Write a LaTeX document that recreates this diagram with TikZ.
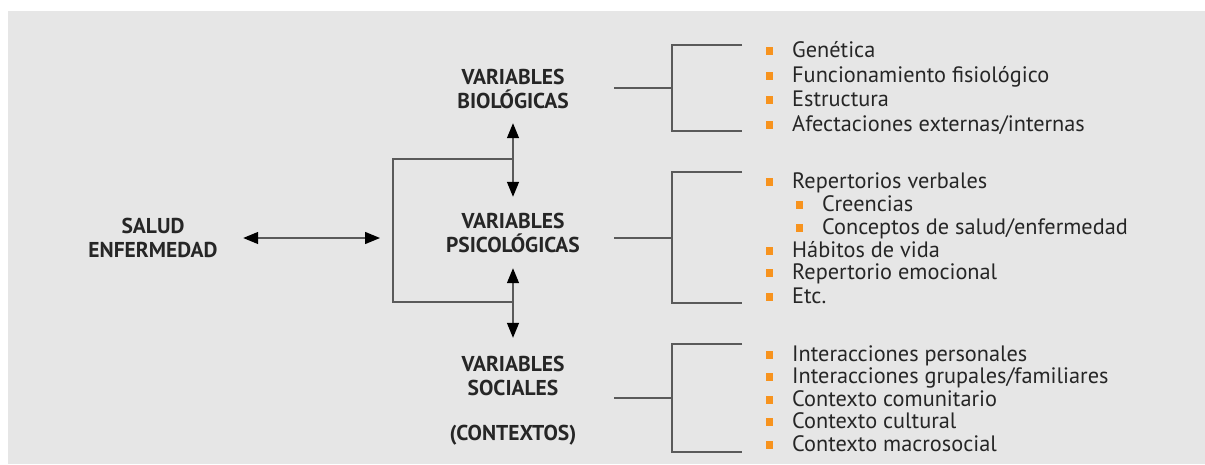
\documentclass[tikz,border=0pt]{standalone}
\usepackage{fontspec}
\setmainfont{PT Sans}
\usetikzlibrary{arrows.meta}
\definecolor{bg}{HTML}{E6E6E6}
\definecolor{txt}{HTML}{262626}
\definecolor{ln}{HTML}{5A5A5A}
\definecolor{orng}{HTML}{F7931E}
\begin{document}
\begin{tikzpicture}[x=1pt,y=-1pt,
  lab/.style={font=\fontsize{21.5}{24}\selectfont\bfseries, text=txt, align=center, inner sep=0pt},
  item/.style={font=\fontsize{22.3}{23}\selectfont, text=txt, anchor=base west, inner sep=0pt},
  bul/.style={fill=orng, minimum width=7pt, minimum height=8pt, inner sep=0pt},
  brk/.style={draw=ln, line width=1.3pt},
  dbl/.style={draw=ln, line width=1.4pt, {Triangle[length=15pt,width=12pt,color=black]}-{Triangle[length=15pt,width=12pt,color=black]}}
]
\useasboundingbox (0,0) rectangle (1205,464);
\fill[bg] (8,11) rectangle (1205,464);

% labels
\node[lab, minimum width=180pt] (salud) at (153,238) {SALUD\\ENFERMEDAD};
\node[lab, minimum height=68pt] (bio) at (513,89) {VARIABLES\\BIOLÓGICAS};
\node[lab, minimum height=71pt] (psi) at (513,232.5) {VARIABLES\\PSICOLÓGICAS};
\node[lab, minimum height=75pt] (soc) at (513,375.5) {VARIABLES\\SOCIALES};
\node[lab] (ctx) at (513,435) {(CONTEXTOS)};

% left bracket and arrows
\coordinate (aend) at (380,238);
\coordinate (lt) at (513,159);
\coordinate (lb) at (513,302);
\coordinate (lx) at (393,238);
\draw[brk] (lt) -- (lt -| lx) -- (lb -| lx) -- (lb);
\draw[dbl] (salud.east) -- (salud.east -| aend);
\draw[dbl] (bio.south) -- (psi.north);
\draw[dbl] (psi.south) -- (soc.north);

% right brackets
\coordinate (bs) at (614,88);
\draw[brk] (bs) -- (672,88);
\draw[brk] (742,45) -- (672,45) -- (672,131) -- (742,131);
\coordinate (ps) at (614,238);
\draw[brk] (ps) -- (672,238);
\draw[brk] (742,172) -- (672,172) -- (672,303) -- (742,303);
\coordinate (ss) at (614,398);
\draw[brk] (ss) -- (672,398);
\draw[brk] (742,344) -- (672,344) -- (672,452) -- (742,452);

% items biologicas
\foreach \y/\t [count=\i] in {57/Genética, 82/Funcionamiento fisiológico, 106/Estructura, 131/Afectaciones externas\slash internas}{
  \node[bul] (bb\i) at (769,\y-6) {};
  \node[item] (bt\i) at (792,\y) {\t};
}
% items psicologicas
\foreach \y/\t [count=\i] in {188/Repertorios verbales, 257/Hábitos de vida, 279/Repertorio emocional, 303/Etc.}{
  \node[bul] (pb\i) at (769,\y-6) {};
  \node[item] (pt\i) at (792,\y) {\t};
}
\foreach \y/\t [count=\i] in {211/Creencias, 234/Conceptos de salud\slash enfermedad}{
  \node[bul] (qb\i) at (799,\y-6) {};
  \node[item] (qt\i) at (822,\y) {\t};
}
% items sociales
\foreach \y/\t [count=\i] in {361/Interacciones personales, 383/Interacciones grupales\slash familiares, 406/Contexto comunitario, 428/Contexto cultural, 451/Contexto macrosocial}{
  \node[bul] (sb\i) at (769,\y-6) {};
  \node[item] (st\i) at (792,\y) {\t};
}
\end{tikzpicture}
\end{document}
